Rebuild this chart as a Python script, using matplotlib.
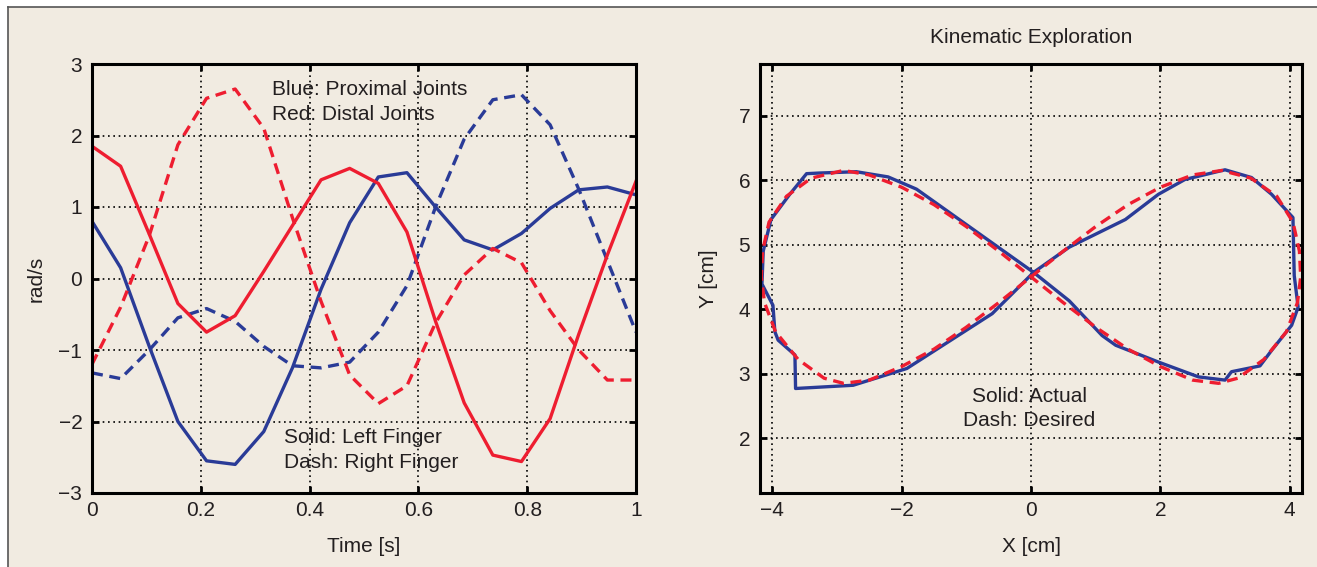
import matplotlib
matplotlib.use("Agg")
from matplotlib import pyplot as plt
from matplotlib.lines import Line2D
from matplotlib.patches import Rectangle

plt.rcParams["font.family"] = ["Liberation Sans", "DejaVu Sans"]

# joint velocities over one second (20 samples)
time_s = [i / 19 for i in range(20)]
prox_left = [0.80, 0.15, -0.95, -2.00, -2.55, -2.60, -2.14, -1.25, -0.15, 0.78,
             1.42, 1.48, 1.00, 0.54, 0.40, 0.63, 0.98, 1.24, 1.28, 1.17]
prox_right = [-1.32, -1.40, -1.00, -0.55, -0.42, -0.60, -0.95, -1.22, -1.25, -1.17,
              -0.75, -0.10, 1.00, 1.95, 2.50, 2.57, 2.15, 1.25, 0.25, -0.75]
dist_left = [1.85, 1.57, 0.62, -0.35, -0.75, -0.52, 0.10, 0.74, 1.38, 1.54,
             1.33, 0.65, -0.60, -1.74, -2.47, -2.56, -1.96, -0.78, 0.33, 1.36]
dist_right = [-1.20, -0.40, 0.60, 1.87, 2.52, 2.65, 2.10, 0.85, -0.32, -1.35,
              -1.75, -1.50, -0.62, 0.05, 0.42, 0.22, -0.45, -1.00, -1.42, -1.42]

# fingertip path in the plane
actual_x = [0.04, 0.59, 1.46, 1.97, 2.38, 3.00, 3.41, 3.72, 4.05, 4.07, 4.13, 4.03,
            3.72, 3.54, 3.10, 3.00, 2.59, 1.97, 1.31, 1.10, 0.59, 0.04, -0.60, -1.92,
            -2.75, -3.64, -3.65, -3.91, -3.96, -3.99, -4.16, -4.14, -4.02, -3.73,
            -3.47, -3.27, -2.70, -2.21, -1.77, 0.04]
actual_y = [4.57, 4.96, 5.39, 5.78, 6.01, 6.16, 6.04, 5.78, 5.42, 4.52, 4.03, 3.75,
            3.36, 3.12, 3.03, 2.90, 2.95, 3.18, 3.44, 3.59, 4.13, 4.57, 3.93, 3.08,
            2.82, 2.77, 3.29, 3.52, 3.65, 4.06, 4.39, 4.90, 5.39, 5.78,
            6.10, 6.11, 6.13, 6.05, 5.86, 4.57]
desired_x = [0.00, 0.50, 1.00, 1.50, 2.00, 2.50, 2.95, 3.40, 3.80, 4.05, 4.15, 4.17,
             4.12, 3.95, 3.60, 3.20, 2.90, 2.50, 2.00, 1.50, 1.00, 0.50, 0.00,
             -0.50, -1.00, -1.50, -2.00, -2.50, -2.90, -3.40, -3.78, -4.05, -4.15,
             -4.17, -4.12, -3.95, -3.60, -3.20, -2.90, -2.50, -2.00, -1.50, -1.00,
             -0.50, 0.00]
desired_y = [4.50, 4.90, 5.28, 5.62, 5.89, 6.08, 6.15, 6.03, 5.75, 5.35, 4.90, 4.50,
             4.10, 3.65, 3.22, 2.93, 2.85, 2.90, 3.11, 3.38, 3.72, 4.10, 4.50,
             4.90, 5.28, 5.62, 5.89, 6.08, 6.15, 6.03, 5.75, 5.35, 4.90,
             4.50, 4.10, 3.65, 3.22, 2.93, 2.85, 2.90, 3.11, 3.38, 3.72,
             4.10, 4.50]

bg = "#f1ebe1"
blue = "#2a3b97"
red = "#ee1d30"
ink = "#231f20"
dash = (0, (3.3, 2.0))
lw = 2.4
fs = 15

fig = plt.figure(figsize=(13.17, 5.67), dpi=100, facecolor="white")
W, H = 1317, 567
fig.patches.append(Rectangle((8 / W, 0), 1, 1 - 7 / H, transform=fig.transFigure,
                             facecolor=bg, edgecolor="none", zorder=-10))
fig.lines.append(Line2D([8 / W, 1], [1 - 7 / H, 1 - 7 / H], transform=fig.transFigure,
                        color="#555555", lw=1.2, zorder=-5))
fig.lines.append(Line2D([8 / W, 8 / W], [0, 1 - 7 / H], transform=fig.transFigure,
                        color="#555555", lw=1.2, zorder=-5))


def style_axes(ax):
    ax.set_facecolor(bg)
    for s in ax.spines.values():
        s.set_linewidth(2.2)
        s.set_color("black")
    ax.grid(True, color="black", linestyle=(0, (1, 2.2)), linewidth=1.2)
    ax.tick_params(direction="in", length=5, width=2, top=True, right=True,
                   labelsize=fs, colors=ink, pad=7)
    ax.tick_params(axis="x", pad=6)
    ax.tick_params(color="black")


ax1 = fig.add_axes([92 / W, 1 - 493 / H, 544 / W, 429 / H])
ax1.plot(time_s, prox_left, color=blue, lw=lw)
ax1.plot(time_s, prox_right, color=blue, lw=lw, linestyle=dash)
ax1.plot(time_s, dist_left, color=red, lw=lw)
ax1.plot(time_s, dist_right, color=red, lw=lw, linestyle=dash)
ax1.set_xlim(0, 1)
ax1.set_ylim(-3, 3)
ax1.set_xticks([0, 0.2, 0.4, 0.6, 0.8, 1])
ax1.set_xticklabels(["0", "0.2", "0.4", "0.6", "0.8", "1"])
ax1.set_yticks(range(-3, 4))
style_axes(ax1)
ax1.set_xlabel("Time [s]", fontsize=fs, color=ink, labelpad=12)
ax1.set_ylabel("rad/s", fontsize=fs, color=ink, labelpad=9)
for y, s in [(2.65, "Blue: Proximal Joints"), (2.30, "Red: Distal Joints")]:
    ax1.text(0.33, y, s, fontsize=fs, color=ink, va="center", ha="left")
for y, s in [(-2.22, "Solid: Left Finger"), (-2.57, "Dash: Right Finger")]:
    ax1.text(0.353, y, s, fontsize=fs, color=ink, va="center", ha="left")

ax2 = fig.add_axes([760 / W, 1 - 493 / H, 542 / W, 429 / H])
ax2.plot(actual_x, actual_y, color=blue, lw=lw)
ax2.plot(desired_x, desired_y, color=red, lw=lw, linestyle=dash)
ax2.set_xlim(-4.19, 4.19)
ax2.set_ylim(1.15, 7.8)
ax2.set_xticks([-4, -2, 0, 2, 4])
ax2.set_yticks(range(2, 8))
style_axes(ax2)
ax2.set_xlabel("X [cm]", fontsize=fs, color=ink, labelpad=12)
ax2.set_ylabel("Y [cm]", fontsize=fs, color=ink, labelpad=15)
ax2.set_title("Kinematic Exploration", fontsize=fs, color=ink, pad=15)
for y, s in [(2.65, "Solid: Actual"), (2.28, "Dash: Desired")]:
    ax2.text(-0.03, y, s, fontsize=fs, color=ink, va="center", ha="center")

fig.savefig("out.png", dpi=100, facecolor=fig.get_facecolor())
